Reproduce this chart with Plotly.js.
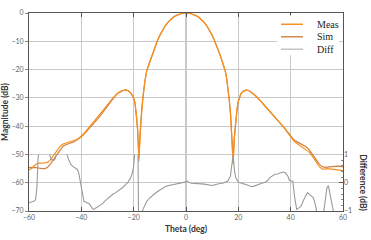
<!DOCTYPE html>
<html><head><meta charset="utf-8">
<script src="https://cdn.plot.ly/plotly-3.0.1.min.js"></script>
<style>html,body{margin:0;padding:0;background:#fff}#chart{width:371px;height:240px}</style>
</head><body><div id="chart"></div>
<script>
// ---- data ----
const seriesNames = ['Meas', 'Sim', 'Diff'];
const xTicks = [-60, -40, -20, 0, 20, 40, 60];
const yTicks = [0, -10, -20, -30, -40, -50, -60, -70];
const diffTicks = [-1, 0, 1];

const thetaMag = [
  -60,-59,-58,-57,-56,-55,-54,-53,-52,-51,
  -50,-49,-48,-47,-46,-45,-44,-43,-42,-41,
  -40,-39,-38,-37,-36,-35,-34,-33,-32,-31,
  -30,-29,-28,-27,-26,-25,-24,-23,-22,-21,
  -20.5,-20,-19.5,-19,-18.5,-18,-17.5,-17,-16.5,-16,
  -15.5,-15,-14,-13,-12,-11,-10,-9,-8,-7,
  -6,-5,-4,-3,-2,-1,0,1,2,3,
  4,5,6,7,8,9,10,11,12,13,
  14,15,15.5,16,16.5,17,17.5,18,18.5,19,
  19.5,20,20.5,21,22,23,24,25,26,27,
  28,29,30,31,32,33,34,35,36,37,
  38,39,40,41,42,43,44,45,46,47,
  48,49,50,51,52,53,54,55,56,57,
  58,59,60
];
const meas = [
  -55.5,-55.0,-54.0,-53.3,-53.1,-53.1,-53.0,-52.8,-52.1,-50.9,
  -49.5,-48.1,-47.0,-46.3,-46.0,-45.8,-45.5,-45.2,-44.8,-44.3,
  -43.6,-42.6,-41.5,-40.4,-39.3,-38.2,-37.2,-36.1,-35.0,-33.8,
  -32.6,-31.3,-30.1,-29.1,-28.3,-27.7,-27.3,-27.2,-27.5,-28.4,
  -29.1,-30.0,-31.8,-35.5,-41.5,-52.5,-42.0,-35.0,-30.3,-26.0,
  -22.8,-20.4,-17.6,-14.8,-12.3,-10.0,-7.9,-6.1,-4.6,-3.4,
  -2.4,-1.6,-1.0,-0.55,-0.25,-0.05,0,-0.05,-0.25,-0.55,
  -1.0,-1.6,-2.4,-3.4,-4.6,-6.1,-7.9,-10.0,-12.3,-14.8,
  -17.6,-20.5,-22.9,-26.2,-30.5,-35.5,-42.5,-53.5,-44.0,-38.5,
  -34.0,-31.2,-29.5,-28.5,-27.6,-27.3,-27.4,-28.0,-28.8,-29.6,
  -30.5,-31.6,-32.7,-33.7,-34.7,-35.8,-36.8,-37.9,-38.9,-40.0,
  -41.2,-42.5,-43.8,-45.0,-45.9,-46.5,-47.0,-47.6,-48.2,-49.1,
  -50.3,-51.8,-53.2,-54.4,-55.1,-55.2,-55.0,-55.1,-55.2,-55.3,
  -55.4,-55.5,-55.7
];
const sim = [
  -54.7,-54.6,-54.6,-54.7,-54.9,-55.0,-55.0,-54.6,-53.6,-52.3,
  -50.9,-49.4,-48.1,-47.1,-46.6,-46.3,-46.0,-45.6,-45.1,-44.5,
  -43.8,-42.9,-41.9,-40.8,-39.8,-38.8,-37.7,-36.6,-35.4,-34.2,
  -32.9,-31.6,-30.3,-29.2,-28.4,-27.8,-27.4,-27.2,-27.5,-28.4,
  -29.1,-30.0,-31.8,-35.3,-40.8,-51.0,-41.5,-34.8,-30.2,-26.0,
  -22.8,-20.4,-17.6,-14.8,-12.3,-10.0,-7.9,-6.1,-4.6,-3.4,
  -2.4,-1.6,-1.0,-0.55,-0.25,-0.05,0,-0.05,-0.25,-0.55,
  -1.0,-1.6,-2.4,-3.4,-4.6,-6.1,-7.9,-10.0,-12.3,-14.8,
  -17.6,-20.5,-22.9,-26.2,-30.4,-35.3,-42.0,-51.5,-43.5,-38.3,
  -34.0,-31.2,-29.5,-28.5,-27.6,-27.3,-27.4,-28.0,-28.8,-29.6,
  -30.5,-31.6,-32.7,-33.7,-34.7,-35.8,-36.8,-37.9,-38.9,-40.0,
  -41.1,-42.3,-43.6,-44.6,-45.3,-45.8,-46.3,-46.8,-47.4,-48.2,
  -49.4,-50.8,-52.2,-53.5,-54.3,-54.6,-54.5,-54.3,-54.1,-54.0,
  -54.1,-54.2,-54.4
];
const thetaDiff = [
  -60,-59,-58,-57.5,-57,-56.5,-56,-55,-54,-53,
  -52.5,-52,-51.5,-51,-50.5,-50,-49.5,-49,-48,-47,
  -46,-45.5,-45,-44,-43,-42,-41.5,-41,-40.5,-40,
  -39.5,-39,-38,-37,-36,-35.5,-35,-34,-33,-32,
  -31,-30,-29,-28,-27,-26,-25,-24,-23,-22,
  -21,-20.5,-20,-19.5,-19,-18.5,-18,-17.5,-17,-16.5,
  -16,-15,-14,-13,-12,-11,-10,-9,-8,-7,
  -6,-5,-4,-3,-2,-1,0,0.5,1,2,
  3,4,5,6,7,8,9,10,11,12,
  13,14,15,16,17,17.5,18,18.5,19,20,
  21,22,23,24,25,26,27,28,29,30,
  31,32,33,34,35,36,37,38,39,39.5,
  40,40.8,41.5,42.3,43,44,45,46.4,47.5,48.7,
  49.5,50,51,52,53,53.8,54.4,55.3,56.3,57,
  58,59,60
];
const diff = [
  -0.71,-0.68,-0.65,-0.6,-0.2,0.9,1.5,2.0,2.1,1.8,
  1.3,0.95,0.82,0.79,0.79,0.85,1.0,1.4,1.8,1.9,
  1.5,1.0,0.85,0.65,0.56,0.51,0.47,0.35,0.08,-0.2,
  -0.5,-0.66,-0.7,-0.74,-0.88,-0.94,-0.93,-0.88,-0.82,-0.75,
  -0.65,-0.56,-0.47,-0.41,-0.36,-0.3,-0.23,-0.15,-0.06,0.04,
  0.2,0.35,0.6,1.0,1.6,2.6,-2.6,-1.8,-1.1,-0.95,
  -0.85,-0.66,-0.55,-0.46,-0.39,-0.32,-0.25,-0.19,-0.14,-0.11,
  -0.09,-0.08,-0.07,-0.05,-0.03,-0.01,0.03,0.06,0.02,-0.02,
  -0.02,-0.03,-0.04,-0.04,-0.05,-0.07,-0.09,-0.1,-0.07,-0.04,
  -0.03,-0.02,0.01,0.06,0.25,0.55,0.98,0.45,0.18,0.02,
  -0.02,-0.04,-0.06,-0.1,-0.14,-0.12,-0.08,-0.05,-0.02,0.01,
  0.06,0.18,0.25,0.3,0.31,0.34,0.38,0.35,0.22,0.08,
  0.06,0.05,-0.5,-0.94,-0.9,-0.82,-0.6,-0.35,-0.44,-0.53,
  -0.8,-1.1,-1.6,-1.5,-0.8,-0.2,-0.1,-0.6,-1.1,-1.5,
  -1.8,-1.8,-1.7
];

// ---- styles ----
const colors = ['#F7901E', '#CF7F3C', '#9a9a9a'];
const legendColors = ['#F7901E', '#D08A50', '#c4c4c4'];
const tickFont = {family: 'Lato, "Open Sans", sans-serif', size: 7, color: '#666'};
const titleFont = {family: 'Lato, "Open Sans", sans-serif', size: 8.5, color: '#333', weight: 'bold'};
const legFont = {family: '"Liberation Serif", "DejaVu Serif", serif', size: 10, color: '#222'};
const gridC = '#c9c9c9';

const traces = [
  {x: thetaMag, y: sim, name: seriesNames[1], type: 'scatter', mode: 'lines',
   line: {color: colors[1], width: 1.2}, xaxis: 'x', yaxis: 'y'},
  {x: thetaMag, y: meas, name: seriesNames[0], type: 'scatter', mode: 'lines',
   line: {color: colors[0], width: 1.2}, xaxis: 'x', yaxis: 'y'},
  {x: thetaDiff, y: diff, name: seriesNames[2], type: 'scatter', mode: 'lines',
   line: {color: colors[2], width: 1.1}, xaxis: 'x2', yaxis: 'y2'}
];

// custom legend (compact rows)
const rowsY = [0.943, 0.880, 0.817];
const legShapes = [
  {type: 'rect', xref: 'paper', yref: 'paper', x0: 0.79, x1: 0.987, y0: 0.786, y1: 0.988,
   fillcolor: '#ffffff', line: {width: 0}, layer: 'above'}
];
const legAnn = [];
for (let i = 0; i < 3; i++) {
  legShapes.push({type: 'line', xref: 'paper', yref: 'paper', x0: 0.8025, x1: 0.8726,
    y0: rowsY[i], y1: rowsY[i], line: {color: legendColors[i], width: 1.5}, layer: 'above'});
  legAnn.push({text: seriesNames[i], xref: 'paper', yref: 'paper', x: 0.911, y: rowsY[i],
    xanchor: 'left', yanchor: 'middle', showarrow: false, font: legFont});
}
legAnn.push({text: 'Difference (dB)', textangle: 90, xref: 'paper', yref: 'paper',
  x: 1, xanchor: 'center', xshift: 20, y: 0.145, yanchor: 'middle', showarrow: false, font: titleFont});

const layout = {
  width: 371, height: 240,
  margin: {l: 29, r: 28, t: 13, b: 29, pad: 0},
  paper_bgcolor: '#ffffff', plot_bgcolor: 'rgba(0,0,0,0)',
  showlegend: false,
  xaxis: {
    domain: [0, 1], range: [-60, 60], tickmode: 'array', tickvals: xTicks,
    ticks: 'inside', ticklen: 4, tickcolor: '#555', tickwidth: 1,
    showline: true, linecolor: '#555', linewidth: 1, mirror: 'ticks',
    showgrid: true, gridcolor: gridC, gridwidth: 1.3, zeroline: false,
    tickfont: tickFont,
    title: {text: 'Theta (deg)', font: titleFont, standoff: 5}
  },
  yaxis: {
    domain: [0, 1], range: [-70, 0], tickmode: 'array', tickvals: yTicks,
    ticks: 'outside', ticklen: 3, tickcolor: '#888', tickwidth: 1,
    showline: true, linecolor: '#555', linewidth: 1, mirror: true,
    showgrid: true, gridcolor: gridC, gridwidth: 1.1, zeroline: false,
    tickfont: tickFont,
    title: {text: 'Magnitude (dB)', font: titleFont, standoff: 4}
  },
  xaxis2: {domain: [0, 1], range: [-60, 60], anchor: 'y2', visible: false},
  yaxis2: {
    domain: [0, 2 / 7], range: [-1, 1], anchor: 'x2', side: 'right',
    tickmode: 'array', tickvals: diffTicks,
    ticks: 'inside', ticklen: 4, tickcolor: '#555', tickwidth: 1,
    showline: false, showgrid: false, zeroline: false, tickfont: tickFont,
    minor: {ticks: 'inside', ticklen: 2, dtick: 0.2, tickcolor: '#888', showgrid: false}
  },
  shapes: legShapes,
  annotations: legAnn
};

Plotly.newPlot('chart', traces, layout, {staticPlot: true, displayModeBar: false});
</script></body></html>
